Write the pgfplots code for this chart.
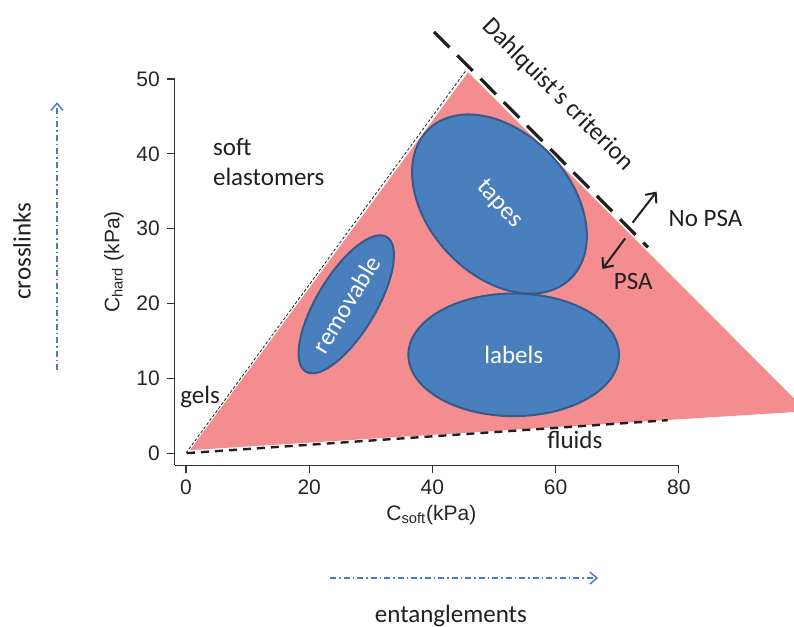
\documentclass[border=0pt]{standalone}
\usepackage{fontspec}
\setmainfont{Carlito}
\newfontfamily\arialf{Liberation Sans}
\usepackage{pgfplots}
\pgfplotsset{compat=1.18}
\usetikzlibrary{arrows.meta,shapes.geometric}

\definecolor{pinkfill}{RGB}{244,141,144}
\definecolor{bluefill}{RGB}{73,127,189}
\definecolor{blueedge}{RGB}{52,91,140}
\definecolor{arrowblue}{RGB}{74,126,193}
\definecolor{txt}{RGB}{35,31,32}
\newcommand\txtfont{\fontsize{12.5}{15}\selectfont}

\begin{document}
\begin{tikzpicture}
\begin{axis}[
  width=251.9pt, height=193pt, scale only axis,
  xmin=-1.8, xmax=80, ymin=-1.6, ymax=50,
  axis lines=left,
  axis line style={-, line width=0.6pt, black!80},
  tick align=outside, major tick length=4pt,
  tick style={black!80, line width=0.6pt},
  xtick={0,20,...,80}, ytick={0,10,...,50},
  /pgf/number format/assume math mode=true,
  tick label style={font=\arialf\fontsize{10.5}{12}\selectfont, text=black!85},
  label style={font=\arialf\fontsize{10.5}{12}\selectfont, text=black!85},
  xlabel={C\textsubscript{soft}(kPa)},
  ylabel={C\textsubscript{hard} (kPa)},
  x label style={at={(axis description cs:0.509,-0.1295)}, anchor=center},
  y label style={at={(axis description cs:-0.121,0.526)}, anchor=center},
  clip=false,
]
% PSA window
\addplot[draw=none, fill=pinkfill] coordinates {(0.65,0.4) (45.8,50.9) (100.8,5.6)} --cycle;
% boundaries
\addplot[txt, line width=0.4pt, dash pattern=on 1.5pt off 1pt] coordinates {(0,0) (45.5,51.2)};
\addplot[txt, line width=1.2pt, dash pattern=on 4pt off 3pt] coordinates {(0.16,0) (78.2,4.4)};
\addplot[txt, line width=1.6pt, dash pattern=on 11pt off 5.5pt] coordinates {(40.26,56.3) (75.0,27.5)};

% regions
\node[ellipse, draw=blueedge, line width=1pt, fill=bluefill, minimum width=103pt, minimum height=71pt,
      inner sep=0pt, rotate=-47, text=white, font=\txtfont] at (axis cs:50.89,33.29) {tapes};
\node[ellipse, draw=blueedge, line width=1pt, fill=bluefill, minimum width=78.5pt, minimum height=29.5pt,
      inner sep=0pt, rotate=59, text=white, font=\txtfont] at (axis cs:26.02,19.89) {removable};
\node[ellipse, draw=blueedge, line width=1pt, fill=bluefill, minimum width=105.3pt, minimum height=61.3pt,
      inner sep=0pt, text=white, font=\txtfont] at (axis cs:53.2,13.14) {labels};

% annotations
\node[font=\txtfont, text=txt, anchor=base west, inner sep=0pt] at (axis cs:4.33,39.84) {soft};
\node[font=\txtfont, text=txt, anchor=base west, inner sep=0pt] at (axis cs:4.33,35.74) {elastomers};
\node[font=\txtfont, text=txt, anchor=base west, inner sep=0pt] at (axis cs:-0.97,6.68) {gels};
\node[font=\txtfont, text=txt, anchor=base west, inner sep=0pt] at (axis cs:58.6,0.67) {fluids};
\node[font=\txtfont, text=txt, anchor=base west, inner sep=0pt] at (axis cs:78.3,30.35) {No PSA};
\node[font=\txtfont, text=txt, anchor=base west, inner sep=0pt] at (axis cs:69.4,21.9) {PSA};
\node[font=\txtfont, text=txt, rotate=-45] at (axis cs:60.4,47.9) {Dahlquist’s criterion};
\node[font=\txtfont, text=txt, rotate=90] at (axis cs:-26.6,27.0) {crosslinks};
\node[font=\txtfont, text=txt] at (axis cs:43.0,-21.8) {entanglements};

\draw[-{Straight Barb[length=4pt,width=7pt]}, line width=1pt, txt] (axis cs:72.5,30.8) -- (axis cs:76.4,34.95);
\draw[-{Straight Barb[length=4pt,width=7pt]}, line width=1pt, txt] (axis cs:71.3,28.7) -- (axis cs:67.6,24.6);
\draw[-{Straight Barb[length=3.5pt,width=6pt]}, line width=0.75pt, arrowblue,
      dash pattern=on 3pt off 1.5pt on 0.75pt off 1.5pt] (axis cs:-20.94,11.1) -- (axis cs:-20.94,46.9);
\draw[-{Straight Barb[length=3.5pt,width=6pt]}, line width=0.75pt, arrowblue,
      dash pattern=on 3pt off 1.5pt on 0.75pt off 1.5pt] (axis cs:23.4,-16.7) -- (axis cs:66.9,-16.7);

\coordinate (bbSW) at (axis cs:-30.19,-23.13);
\coordinate (bbNE) at (axis cs:98.70,60.56);
\end{axis}
\pgfresetboundingbox
\useasboundingbox (bbSW) rectangle (bbNE);
\end{tikzpicture}
\end{document}
